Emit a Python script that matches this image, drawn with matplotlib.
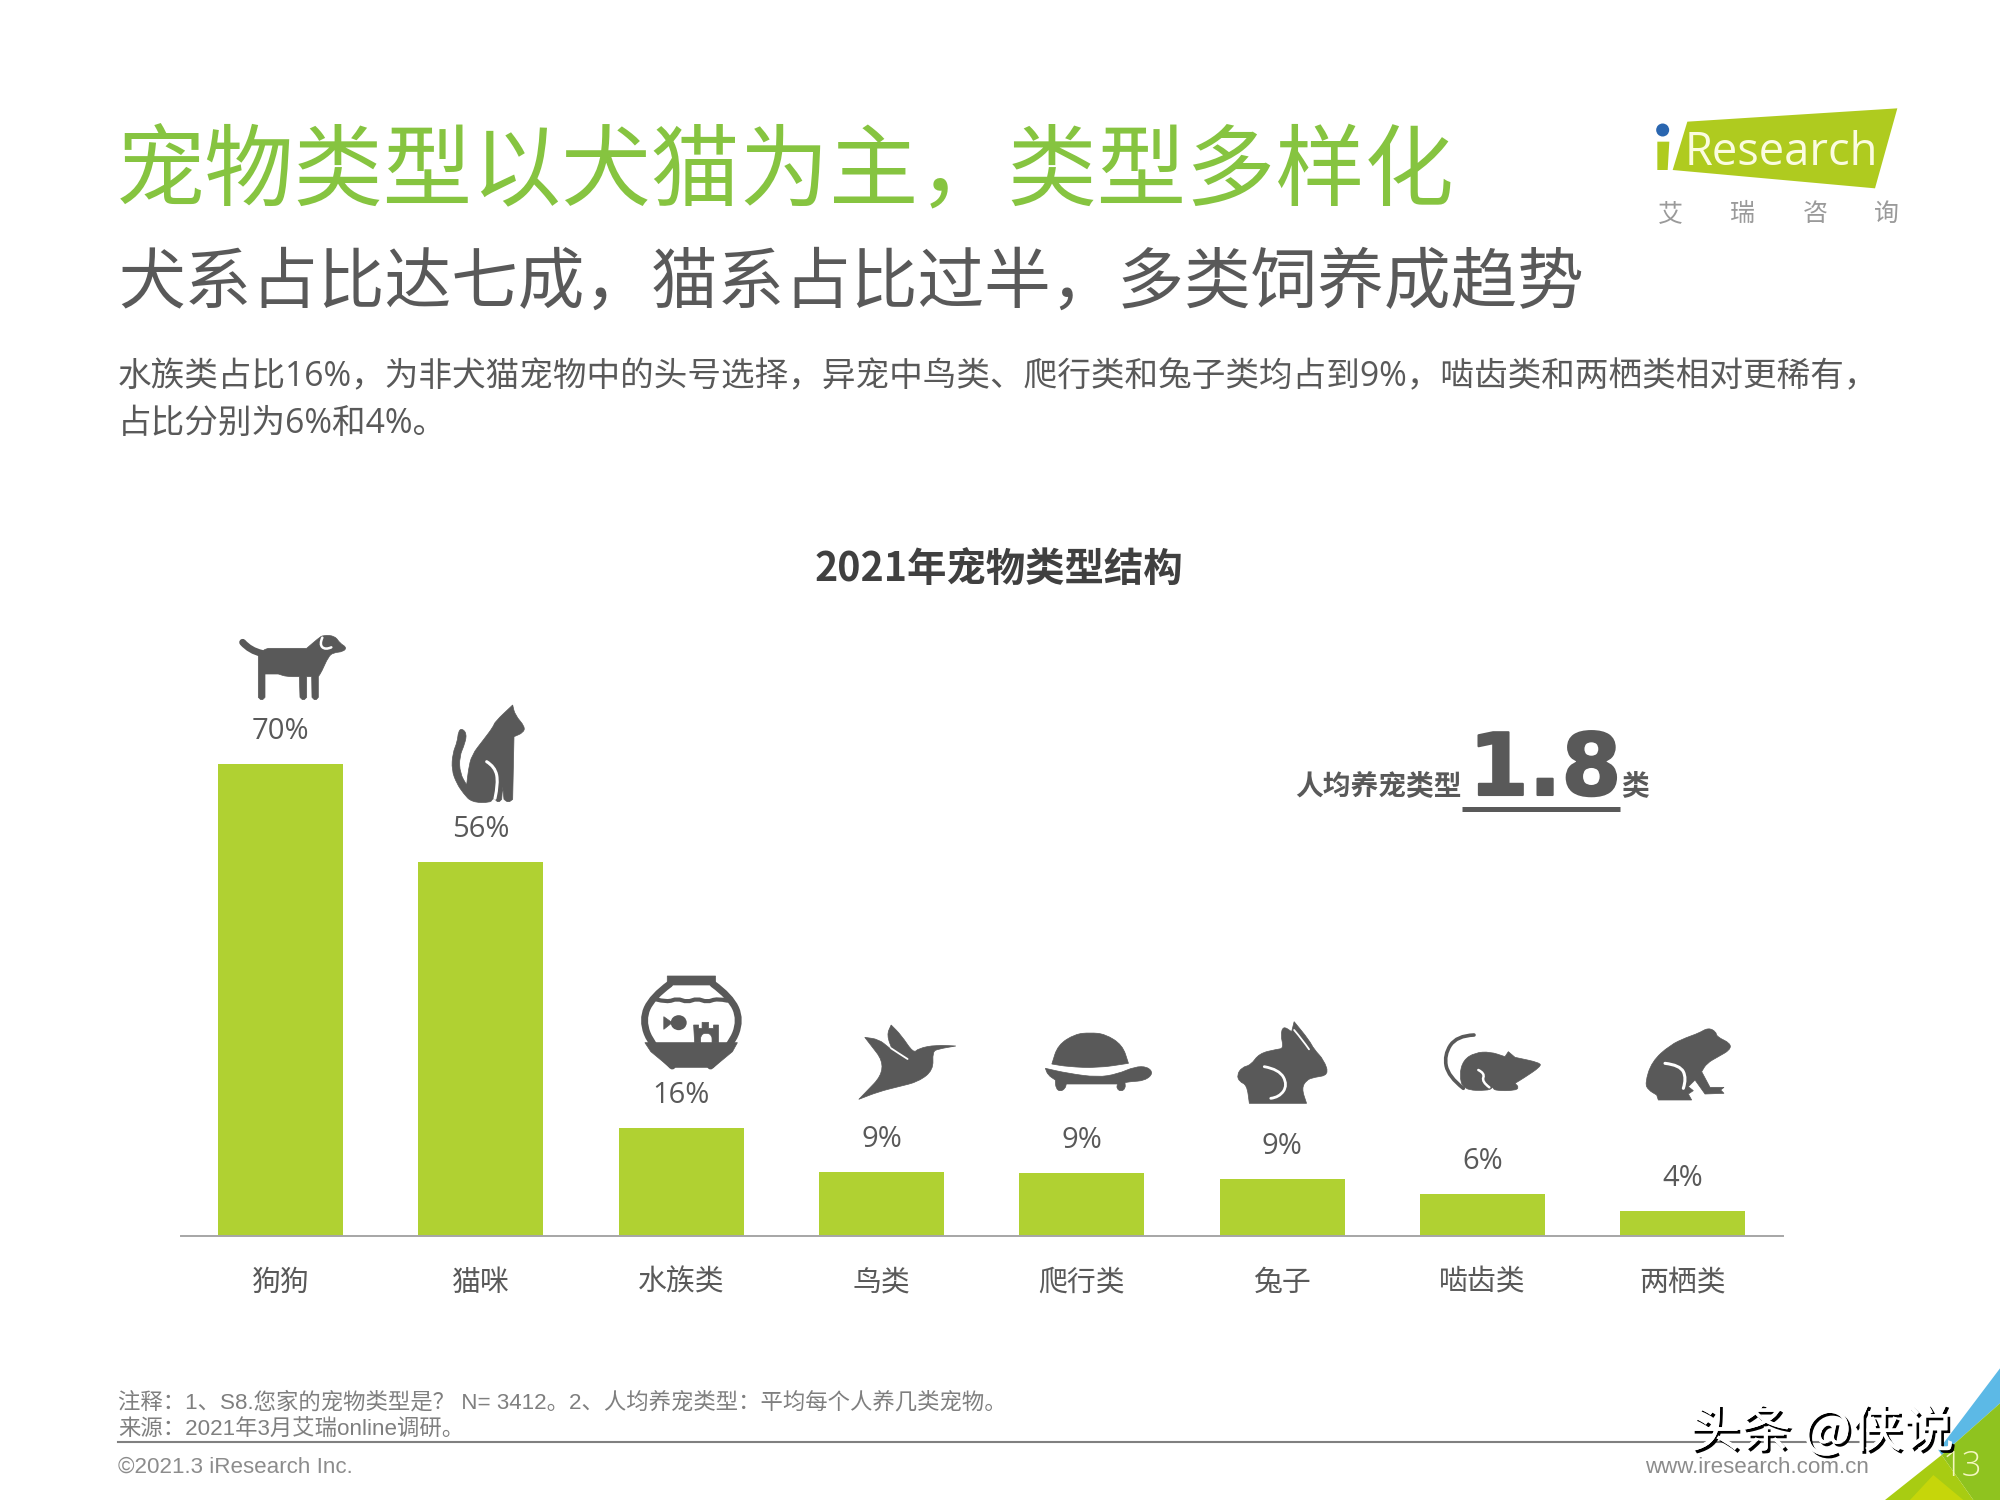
# 宠物类型结构柱状图
import matplotlib
matplotlib.use('Agg')
import matplotlib.pyplot as plt
import matplotlib.patheffects as pe
from matplotlib.patches import Polygon, Ellipse, Circle, PathPatch
from matplotlib.path import Path
import numpy as np

plt.rcParams['font.family'] = ['Noto Sans CJK SC', 'DejaVu Sans']

categories = ['狗狗', '猫咪', '水族类', '鸟类', '爬行类', '兔子', '啮齿类', '两栖类']
bar_heights = [70, 55.5, 16, 9.5, 9.3, 8.5, 6.2, 3.7]
value_labels = ['70%', '56%', '16%', '9%', '9%', '9%', '6%', '4%']

title = '宠物类型以犬猫为主，类型多样化'
subtitle = '犬系占比达七成，猫系占比过半，多类饲养成趋势'
desc1 = '水族类占比16%，为非犬猫宠物中的头号选择，异宠中鸟类、爬行类和兔子类均占到9%，啮齿类和两栖类相对更稀有，'
desc2 = '占比分别为6%和4%。'
chart_title = '2021年宠物类型结构'
note1 = '注释：1、S8.您家的宠物类型是？ N= 3412。2、人均养宠类型：平均每个人养几类宠物。'
note2 = '来源：2021年3月艾瑞online调研。'

GREEN = '#B0D132'
GREY = '#595959'
OPEN = ['Open Sans', 'Noto Sans CJK SC']
LIB = ['Liberation Sans', 'Noto Sans CJK SC']

fig = plt.figure(figsize=(20, 15), dpi=100, facecolor='white')

# 整张图的像素坐标层，放文字、logo和图标
bg = fig.add_axes([0, 0, 1, 1])
bg.set_xlim(0, 2000)
bg.set_ylim(1500, 0)
bg.axis('off')

# 柱状图
left, right, top, base = 181, 1783, 600, 1236
ax = fig.add_axes([left / 2000, 1 - base / 1500, (right - left) / 2000, (base - top) / 1500])
ax.patch.set_alpha(0)
X = np.arange(len(categories))
ax.bar(X, bar_heights, width=0.624, color=GREEN, zorder=2)
ax.set_xlim(-0.497, 7.5)
ax.set_ylim(0, (base - top) / 6.743)
for sp in ['top', 'left', 'right']:
    ax.spines[sp].set_visible(False)
ax.spines['bottom'].set_color('#A6A6A6')
ax.spines['bottom'].set_linewidth(1.4)
ax.set_yticks([])
ax.set_xticks(X)
ax.set_xticklabels(categories, fontsize=20.8, color=GREY)
ax.tick_params(axis='x', length=0, pad=23)
for i in range(len(X)):
    ax.annotate(value_labels[i], (X[i], bar_heights[i]), xytext=(0, 23.5), textcoords='offset points',
                ha='center', va='center', fontsize=21, color=GREY, family=OPEN)


# 文字
bg.text(116, 174, title, fontsize=64.3, color='#86C440', va='center', weight='light')
bg.text(118, 284, subtitle, fontsize=48, color=GREY, va='center', weight='light')
bg.text(118, 377, desc1, fontsize=24.2, color=GREY, va='center', family=OPEN)
bg.text(118, 424, desc2, fontsize=24.2, color=GREY, va='center', family=OPEN)
bg.text(999, 569, chart_title, fontsize=28.4, color='#404040', va='center', ha='center', weight='bold')

bg.text(1295, 786, '人均养宠类型', fontsize=20, color=GREY, va='center', weight='bold')
bg.text(1545, 795, '1.8', fontsize=62, color=GREY, va='baseline', ha='center', weight='bold',
        family='DejaVu Sans', path_effects=[pe.withStroke(linewidth=1.5, foreground=GREY)])
bg.text(1621, 786, '类', fontsize=20, color=GREY, va='center', weight='bold')
bg.plot([1462, 1620], [809, 809], color=GREY, lw=3.6, solid_capstyle='butt')

bg.text(118, 1403, note1, fontsize=16.1, color='#7F7F7F', va='center', family=LIB)
bg.text(118, 1430, note2, fontsize=16.1, color='#7F7F7F', va='center', family=LIB)
bg.plot([118, 1877], [1442, 1442], color='#808080', lw=1.5)
bg.text(118, 1473, '©2021.3 iResearch Inc.', fontsize=16.1, color='#8C8C8C', va='baseline', family=LIB)
bg.text(1869, 1473, 'www.iresearch.com.cn', fontsize=16.1, color='#8C8C8C', va='baseline', ha='right', family=LIB)


# 右下角色块
def corner(pts, c):
    bg.add_patch(Polygon([(1600 + p[0] / 3, 1360 + p[1] / 3) for p in pts], closed=True, color=c, lw=0))


corner([(1200, 25), (1200, 130), (1025, 285), (1015, 270)], '#5CB9E6')
corner([(1200, 130), (1200, 420), (1120, 420), (1025, 285)], '#8FC31F')
corner([(1025, 285), (1120, 420), (855, 420)], '#A8CC12')
corner([(1000, 345), (1090, 420), (930, 420)], '#C6D60A')
bg.text(1962, 1467, '13', fontsize=25, color='#F4F7C0', ha='center', va='center', family='Open Sans',
        weight='light', zorder=5)

# 水印
bg.text(1689, 1432, '头条 @侠说', fontsize=36.9, color='white', va='center', zorder=6,
        path_effects=[pe.withSimplePatchShadow(offset=(2, -2), shadow_rgbFace='black', alpha=1), pe.Normal()])


# logo
def logo(pts, c):
    bg.add_patch(Polygon([(1600 + p[0] / 3, 90 + p[1] / 3) for p in pts], closed=True, color=c, lw=0))


logo([(262, 95), (892, 55), (825, 295), (218, 240)], '#AFCB1F')
logo([(172, 155), (208, 155), (203, 240), (172, 240)], '#AFCB1F')
bg.add_patch(Circle((1600 + 188 / 3, 90 + 120 / 3), 6.5, color='#2A66B0', lw=0))
bg.text(1600 + 255 / 3, 90 + 225 / 3, 'Research', fontsize=32.6, color='#FBFCE0', va='baseline', family='Open Sans')
for cx, ch in zip([210, 428, 645, 860], '艾瑞咨询'):
    bg.text(1600 + cx / 3, 92 + 365 / 3, ch, fontsize=18, color='#9A9A9A', ha='center', va='center')


# 图标，坐标是从放大图上读的，第三个元素为1的点是尖角
def expand(pts, ox, oy, sx, sy):
    out = []
    for p in pts:
        q = (ox + p[0] / sx, oy + p[1] / sy)
        out.append(q)
        if len(p) == 3:
            out.append(q)
    return np.array(out)


def icon(pts, ox, oy, sx=3.0, sy=3.0, c=GREY):
    P = expand(pts, ox, oy, sx, sy)
    verts = [(P[-1] + P[0]) / 2]
    codes = [Path.MOVETO]
    for i in range(len(P)):
        verts += [P[i], (P[i] + P[(i + 1) % len(P)]) / 2]
        codes += [Path.CURVE3, Path.CURVE3]
    bg.add_patch(PathPatch(Path(verts, codes), fc=c, ec=c, lw=0.5, zorder=3))


def stroke(pts, ox, oy, w, sx=3.0, sy=3.0, c=GREY):
    P = expand(pts, ox, oy, sx, sy)
    verts = [P[0]]
    codes = [Path.MOVETO]
    for i in range(1, len(P) - 1):
        end = (P[i] + P[i + 1]) / 2 if i < len(P) - 2 else P[i + 1]
        verts += [P[i], end]
        codes += [Path.CURVE3, Path.CURVE3]
    bg.add_patch(PathPatch(Path(verts, codes), fc='none', ec=c, lw=w, capstyle='round', zorder=4))


# 狗
ox, oy = 200, 610
icon([(175, 135, 1), (190, 120), (205, 115, 1), (320, 115, 1), (355, 85), (370, 75), (405, 78), (420, 100),
      (440, 112), (430, 125), (400, 128), (385, 140), (365, 185), (355, 200, 1), (355, 262, 1), (346, 272),
      (336, 262, 1), (335, 200, 1), (320, 200, 1), (320, 262, 1), (310, 272), (300, 262, 1), (298, 200, 1), (260, 200),
      (235, 192, 1), (195, 192, 1), (195, 262, 1), (185, 272), (175, 262, 1)], ox, oy)
stroke([(128, 97), (150, 122), (185, 130)], ox, oy, 5)
stroke([(222, 200), (222, 260)], ox, oy, 5)
stroke([(367, 83), (358, 103), (376, 120), (394, 112)], ox, oy, 1.8, c='white')

# 猫
icon([(938, 285, 1), (945, 315), (975, 350), (970, 368), (942, 380, 1), (938, 568, 1), (925, 578),
      (912, 568, 1), (908, 530, 1), (905, 568, 1), (895, 578), (885, 568, 1), (878, 565), (872, 578), (815, 577),
      (790, 550), (770, 520), (755, 480), (758, 430), (772, 395), (775, 365), (785, 355), (800, 370), (795, 400),
      (778, 440), (780, 490), (800, 525, 1), (805, 480), (815, 435), (850, 390), (880, 350), (885, 335)], ox, oy)
stroke([(860, 455), (885, 470), (895, 520), (885, 565)], ox, oy, 2.2, c='white')

# 鱼缸，x方向放大图是2倍
ox, oy = 620, 960
sx = 2.01
icon([(95, 48, 1), (192, 48, 1), (192, 75, 1), (95, 75, 1)], ox, oy, sx)
stroke([(100, 72), (65, 110), (44, 180), (65, 260), (105, 318)], ox, oy, 5, sx)
stroke([(187, 72), (222, 110), (243, 180), (222, 260), (182, 318)], ox, oy, 5, sx)
icon([(50, 248, 1), (236, 248, 1), (226, 275, 1), (188, 322, 1), (100, 322, 1), (62, 275, 1)], ox, oy, sx)
stroke([(72, 118), (95, 127), (115, 115), (135, 127), (155, 115), (175, 127), (195, 115), (216, 122)], ox, oy, 3, sx)
bg.add_patch(Ellipse((620 + 118 / sx, 960 + 188 / 3), 16, 15, fc=GREY, ec='none', zorder=4))
icon([(88, 170, 1), (105, 188, 1), (88, 208, 1)], ox, oy, sx)
icon([(148, 195, 1), (158, 195, 1), (158, 205, 1), (165, 205, 1), (165, 187, 1), (178, 187, 1), (178, 205, 1),
      (188, 205, 1), (188, 195, 1), (198, 195, 1), (198, 248, 1), (185, 248, 1), (185, 225), (173, 218), (162, 225),
      (162, 248, 1), (150, 248, 1)], ox, oy, sx)

# 鸟
icon([(480, 418, 1), (540, 325), (492, 232, 1), (520, 238), (540, 262), (548, 272, 1), (536, 225), (545, 195, 1),
      (565, 225), (590, 280), (600, 265), (635, 255), (675, 258, 1), (640, 267), (628, 275), (630, 330), (600, 365),
      (560, 380), (520, 395)], ox, oy, sx)
stroke([(545, 265), (560, 280), (578, 297)], ox, oy, 1.3, sx, c='white')

# 乌龟
icon([(868, 312, 1), (880, 255), (915, 222), (945, 218), (975, 222), (1010, 255), (1022, 310, 1), (960, 324),
      (900, 320)], ox, oy, sx)
icon([(855, 325, 1), (900, 340), (960, 352), (1000, 342), (1035, 320), (1060, 320), (1072, 340), (1055, 362),
      (1025, 365), (1015, 368, 1), (1016, 385), (1007, 395), (998, 385), (1000, 372, 1), (897, 372, 1), (895, 385),
      (885, 395), (876, 385), (875, 360, 1), (860, 345)], ox, oy, sx)

# 兔子
icon([(1240, 345), (1250, 322), (1268, 315), (1285, 280), (1320, 268), (1334, 265), (1328, 225), (1333, 198),
      (1350, 215, 1), (1355, 185, 1), (1385, 240), (1395, 268), (1415, 300), (1425, 345), (1395, 352), (1380, 360),
      (1370, 385), (1380, 430, 1), (1345, 430, 1), (1265, 430, 1), (1260, 375), (1245, 365)], ox, oy, sx)
stroke([(1295, 320), (1325, 328), (1342, 375), (1325, 412), (1308, 415)], ox, oy, 2, sx, c='white')
stroke([(1355, 210), (1372, 240), (1385, 268)], ox, oy, 1.3, sx, c='white')

# 老鼠
ox, oy = 1400, 1000
icon([(178, 225), (190, 180), (225, 158), (270, 155), (315, 170, 1), (325, 155, 1), (345, 172, 1), (420, 188),
      (422, 200), (370, 235), (345, 250, 1), (357, 262), (345, 272), (285, 272), (278, 262, 1), (265, 272),
      (190, 270)], ox, oy)
stroke([(222, 105), (170, 107), (132, 165), (145, 230), (190, 265)], ox, oy, 2.6)
stroke([(235, 210), (255, 220), (245, 245), (268, 262)], ox, oy, 1.8, c='white')

# 青蛙
icon([(735, 250), (755, 185), (810, 135), (860, 112), (895, 100), (925, 83), (948, 95), (950, 110), (992, 130),
      (990, 150), (955, 170), (920, 190), (905, 215, 1), (930, 262, 1), (972, 262, 1), (962, 270, 1), (972, 280, 1),
      (915, 282, 1), (885, 240, 1), (865, 260, 1), (880, 272, 1), (865, 282, 1), (875, 300, 1), (775, 300, 1),
      (770, 285, 1), (745, 270)], ox, oy)
stroke([(795, 190), (840, 195), (860, 235), (850, 265)], ox, oy, 2.2, c='white')

fig.savefig('out.png', dpi=100)
